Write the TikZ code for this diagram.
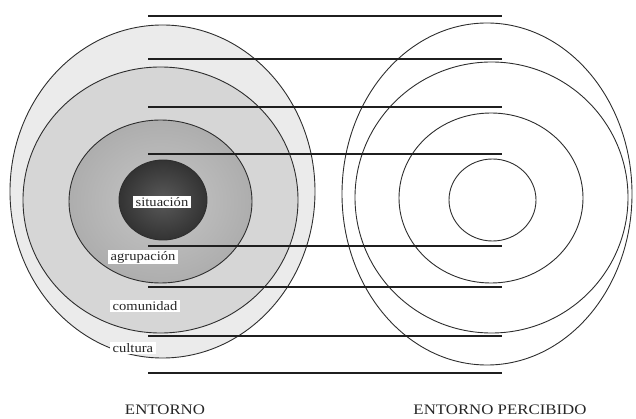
\documentclass[tikz,border=0pt]{standalone}
\usepackage{fontspec}
\setmainfont{Liberation Serif}
\newfontfamily\labelfont{Liberation Serif}[FakeStretch=1.12]
\newfontfamily\titlefont{Liberation Serif}[FakeStretch=1.16]
\begin{document}
\begin{tikzpicture}[x=1pt, y=-1pt,
  ring/.style={draw=black!82, line width=0.9pt},
  band/.style={draw=black!88, line width=1.6pt},
  tag/.style={fill=white, text=black!85, inner xsep=2.5pt, inner ysep=1.2pt, font=\labelfont\fontsize{13}{14}\selectfont},
  title/.style={text=black!85, font=\titlefont\fontsize{14.5}{15}\selectfont}]
\useasboundingbox (0,0) rectangle (636,419);

% environment: filled nested levels
\draw[ring, fill=black!8]  (162.5,191.5) ellipse [x radius=152.5pt, y radius=166.5pt];
\draw[ring, fill=black!16] (160.5,200)   ellipse [x radius=137.5pt, y radius=133pt];
\draw[ring, inner color=black!22, outer color=black!32] (160.5,201.5) ellipse [x radius=91.5pt, y radius=81.5pt];
\draw[ring, inner color=black!65, outer color=black!80] (163,200) ellipse [x radius=44pt, y radius=40pt];

% perceived environment: outlines only
\draw[ring] (487,194)     ellipse [x radius=145pt,   y radius=171pt];
\draw[ring] (491.5,197.5) ellipse [x radius=136.5pt, y radius=135.5pt];
\draw[ring] (491,198)     ellipse [x radius=92pt,    y radius=85pt];
\draw[ring] (492.5,200)   ellipse [x radius=43.5pt,  y radius=41pt];

% horizontal bands linking both sides
\foreach \yy [count=\i] in {16,59,107,154,246,287,336,373} {
  \coordinate (l\i) at (148,\yy);
  \coordinate (r\i) at (502,\yy);
  \draw[band] (l\i) -- (r\i);
}

% level labels
\node[tag] (situacion) at (162,202) {situación};
\node[tag, anchor=west] (agrupacion) at (108,257) {agrupación};
\node[tag, anchor=west] (comunidad) at (110,306) {comunidad};
\node[tag, anchor=west] (cultura) at (110,348) {cultura};

% titles
\node[title] (entorno) at (165,410) {ENTORNO};
\node[title] (percibido) at (500,410) {ENTORNO PERCIBIDO};
\end{tikzpicture}
\end{document}
